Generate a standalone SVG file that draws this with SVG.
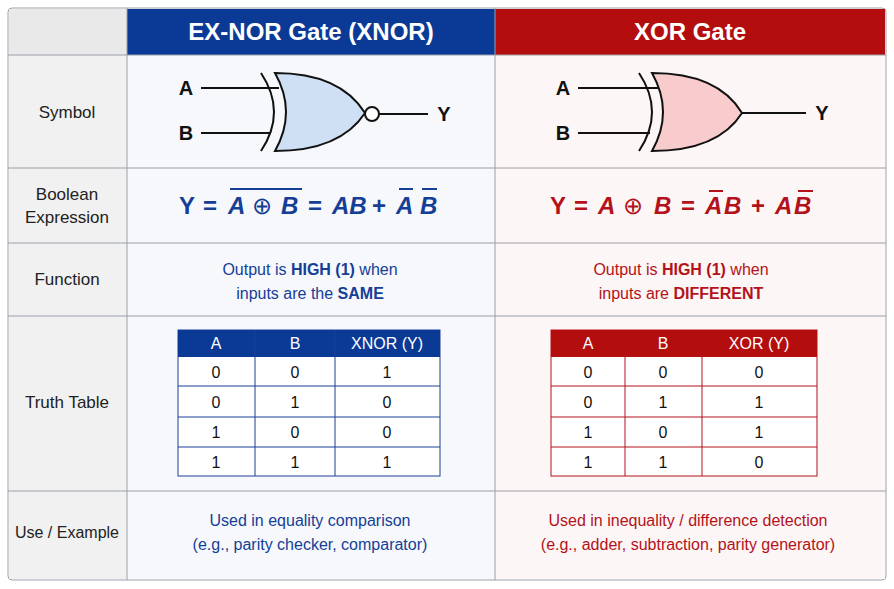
<svg xmlns="http://www.w3.org/2000/svg" width="894" height="589" viewBox="0 0 894 589">
<style>
text{font-family:"Liberation Sans",Arial,sans-serif}
.lbl{font-size:17px;fill:#222;text-anchor:middle}
.hd{font-size:24px;font-weight:bold;fill:#fff;text-anchor:middle}
.b{fill:#153e96}.r{fill:#b3121a}
.ex{font-size:24px;font-weight:bold}
.it{font-style:italic}
.fn{font-size:16px;text-anchor:middle}
.th{font-size:16px;fill:#fff;text-anchor:middle}
.td{font-size:16px;fill:#111;text-anchor:middle}
.sep{stroke:#9aa0a8;stroke-width:1}
.wire{stroke:#111;stroke-width:2;fill:none}
.pin{font-size:20px;font-weight:bold;fill:#111;text-anchor:middle}
</style>
<rect width="894" height="589" fill="#fff"/>
<g id="background">
<rect x="8" y="8" width="878" height="572" rx="4" fill="#fff" stroke="#9aa0a8"/>
<rect x="9" y="9" width="118" height="570" fill="#f1f1f1"/>
<rect x="127" y="55" width="368" height="524" fill="#f6f8fc"/>
<rect x="495" y="55" width="390" height="524" fill="#fdf6f6"/>
<rect x="9" y="9" width="118" height="46" fill="#e9e9e9"/>
<rect x="127" y="9" width="368" height="46" fill="#0b3a96"/>
<rect x="495" y="9" width="390" height="46" fill="#b30d0d"/>
<g class="sep">
<line x1="8" y1="55" x2="886" y2="55"/>
<line x1="8" y1="168" x2="886" y2="168"/>
<line x1="8" y1="243" x2="886" y2="243"/>
<line x1="8" y1="316" x2="886" y2="316"/>
<line x1="8" y1="491" x2="886" y2="491"/>
<line x1="127" y1="8" x2="127" y2="580"/>
<line x1="495" y1="8" x2="495" y2="580"/>
</g>
</g>
<g id="headers">
<text class="hd" x="311" y="40">EX-NOR Gate (XNOR)</text>
<text class="hd" x="690" y="40">XOR Gate</text>
</g>
<g id="row-labels">
<text class="lbl" x="67" y="118">Symbol</text>
<text class="lbl" x="67" y="200">Boolean</text>
<text class="lbl" x="67" y="223">Expression</text>
<text class="lbl" x="67" y="285">Function</text>
<text class="lbl" x="67" y="408">Truth Table</text>
<text class="lbl" x="67" y="538" style="font-size:16px">Use / Example</text>
</g>
<g id="xnor-symbol">
<line class="wire" x1="201" y1="88" x2="279" y2="88"/>
<line class="wire" x1="201" y1="133" x2="271" y2="133"/>
<path class="wire" d="M261,73 Q287,112 261,151"/>
<path d="M275,73 Q297,112 275,151 Q340,151 365,113 Q340,73 275,73 Z" fill="#cfe0f5" stroke="#111" stroke-width="2"/>
<circle cx="372" cy="114" r="7" fill="#fff" stroke="#111" stroke-width="2"/>
<line class="wire" x1="379" y1="114" x2="428" y2="114"/>
<text class="pin" x="186" y="95">A</text>
<text class="pin" x="186" y="140">B</text>
<text class="pin" x="444" y="121">Y</text>
</g>
<g id="xor-symbol">
<line class="wire" x1="578" y1="88" x2="658" y2="88"/>
<line class="wire" x1="578" y1="133" x2="650" y2="133"/>
<path class="wire" d="M639,73 Q665,112 639,151"/>
<path d="M652,73 Q674,112 652,151 Q718,151 742,113 Q718,73 652,73 Z" fill="#f8cccc" stroke="#111" stroke-width="2"/>
<line class="wire" x1="742" y1="113" x2="806" y2="113"/>
<text class="pin" x="563" y="95">A</text>
<text class="pin" x="563" y="140">B</text>
<text class="pin" x="822" y="120">Y</text>
</g>
<g id="xnor-expression" class="ex b">
<text x="179" y="214">Y</text>
<text x="203" y="214">=</text>
<text class="it" x="228" y="214">A</text>
<text x="252" y="214" style="font-weight:normal">⊕</text>
<text class="it" x="281" y="214">B</text>
<text x="308" y="214">=</text>
<text class="it" x="332" y="214">AB</text>
<text x="372" y="214">+</text>
<text class="it" x="396" y="214">A</text>
<text class="it" x="420" y="214">B</text>
<g stroke="#153e96" stroke-width="2">
<line x1="230" y1="189" x2="302" y2="189"/>
<line x1="399" y1="189" x2="413" y2="189"/>
<line x1="422" y1="189" x2="437" y2="189"/>
</g>
</g>
<g id="xor-expression" class="ex r">
<text x="550" y="214">Y</text>
<text x="574" y="214">=</text>
<text class="it" x="598" y="214">A</text>
<text x="623" y="214" style="font-weight:normal">⊕</text>
<text class="it" x="654" y="214">B</text>
<text x="681" y="214">=</text>
<text class="it" x="705" y="214">A</text>
<text class="it" x="724" y="214">B</text>
<text x="751" y="214">+</text>
<text class="it" x="775" y="214">A</text>
<text class="it" x="794" y="214">B</text>
<g stroke="#b3121a" stroke-width="2">
<line x1="709" y1="191" x2="723" y2="191"/>
<line x1="798" y1="191" x2="813" y2="191"/>
</g>
</g>
<g id="xnor-function" class="fn b">
<text x="310" y="275">Output is <tspan font-weight="bold">HIGH (1)</tspan> when</text>
<text x="310" y="299">inputs are the <tspan font-weight="bold">SAME</tspan></text>
</g>
<g id="xor-function" class="fn r">
<text x="681" y="275">Output is <tspan font-weight="bold">HIGH (1)</tspan> when</text>
<text x="681" y="299">inputs are <tspan font-weight="bold">DIFFERENT</tspan></text>
</g>
<g id="xnor-table">
<rect x="178" y="330" width="262" height="146" fill="#fff" stroke="#1a3f9a"/>
<rect x="178" y="330" width="262" height="27" fill="#0b3a96"/>
<g stroke="#1a3f9a">
<line x1="178" y1="386" x2="440" y2="386"/><line x1="178" y1="417" x2="440" y2="417"/><line x1="178" y1="447" x2="440" y2="447"/>
<line x1="255" y1="330" x2="255" y2="476"/><line x1="335" y1="330" x2="335" y2="476"/>
</g>
<text class="th" x="216" y="349">A</text><text class="th" x="295" y="349">B</text><text class="th" x="387" y="349">XNOR (Y)</text>
<text class="td" x="216" y="378">0</text><text class="td" x="295" y="378">0</text><text class="td" x="387" y="378">1</text>
<text class="td" x="216" y="408">0</text><text class="td" x="295" y="408">1</text><text class="td" x="387" y="408">0</text>
<text class="td" x="216" y="438">1</text><text class="td" x="295" y="438">0</text><text class="td" x="387" y="438">0</text>
<text class="td" x="216" y="468">1</text><text class="td" x="295" y="468">1</text><text class="td" x="387" y="468">1</text>
</g>
<g id="xor-table">
<rect x="551" y="330" width="266" height="146" fill="#fff" stroke="#b3121a"/>
<rect x="551" y="330" width="266" height="27" fill="#b30d0d"/>
<g stroke="#b3121a">
<line x1="551" y1="386" x2="817" y2="386"/><line x1="551" y1="417" x2="817" y2="417"/><line x1="551" y1="447" x2="817" y2="447"/>
<line x1="625" y1="330" x2="625" y2="476"/><line x1="702" y1="330" x2="702" y2="476"/>
</g>
<text class="th" x="588" y="349">A</text><text class="th" x="663" y="349">B</text><text class="th" x="759" y="349">XOR (Y)</text>
<text class="td" x="588" y="378">0</text><text class="td" x="663" y="378">0</text><text class="td" x="759" y="378">0</text>
<text class="td" x="588" y="408">0</text><text class="td" x="663" y="408">1</text><text class="td" x="759" y="408">1</text>
<text class="td" x="588" y="438">1</text><text class="td" x="663" y="438">0</text><text class="td" x="759" y="438">1</text>
<text class="td" x="588" y="468">1</text><text class="td" x="663" y="468">1</text><text class="td" x="759" y="468">0</text>
</g>
<g id="xnor-use" class="fn b">
<text x="310" y="526">Used in equality comparison</text>
<text x="310" y="550">(e.g., parity checker, comparator)</text>
</g>
<g id="xor-use" class="fn r">
<text x="688" y="526">Used in inequality / difference detection</text>
<text x="688" y="550">(e.g., adder, subtraction, parity generator)</text>
</g>
</svg>
